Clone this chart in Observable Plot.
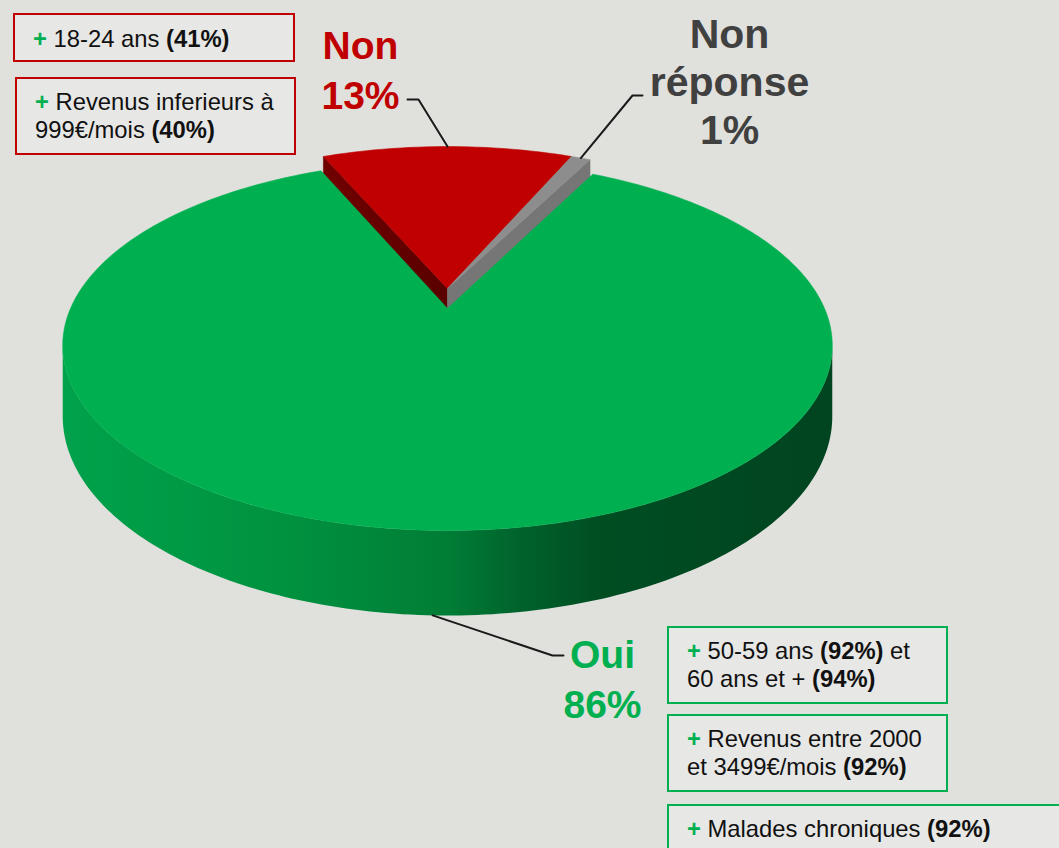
<!DOCTYPE html>
<html>
<head>
<meta charset="utf-8">
<script src="https://cdn.jsdelivr.net/npm/d3@7"></script>
<script src="https://cdn.jsdelivr.net/npm/@observablehq/plot@0.6"></script>
<style>
  body { margin: 0; background: #e0e0dc; }
  #wrap { position: relative; width: 1059px; height: 848px; overflow: hidden; background: #e0e0dc;
          font-family: "Liberation Sans", Arial, sans-serif; }
  #wrap svg { position: absolute; left: 0; top: 0; }
  .box { position: absolute; box-sizing: border-box; border: 2px solid; background: #e7e7e5;
         font-size: 23.8px; line-height: 28px; color: #111; white-space: nowrap; padding-left: 18px; }
  .box .plus { color: #00b050; font-weight: bold; }
  .box b { font-weight: bold; }
</style>
</head>
<body>
<div id="wrap"></div>
<script>
// ---------------- DATA ----------------
const categories = ["Non", "Non réponse", "Oui"];
const values = [13, 1, 86];
const labelNames = ["Non", "Non\nréponse", "Oui"];
const explodedCategories = ["Non", "Non réponse"];

// profiles over-represented among "Non"
const nonProfiles = [
  [["18-24 ans", 41]],
  [["Revenus inferieurs à\n999€/mois", 40]]
];
// profiles over-represented among "Oui"
const ouiProfiles = [
  [["50-59 ans", 92], [" et\n60 ans et +", 94]],
  [["Revenus entre 2000\net 3499€/mois", 92]],
  [["Malades chroniques", 92]]
];

// ---------------- STYLE / LAYOUT ----------------
const topColors  = {"Non": "#c00000", "Non réponse": "#8d8d8d", "Oui": "#00b050"};
const faceColors = {"Non": "#680000", "Non réponse": "#767676"};
const labelColors = {"Non": "#c00000", "Non réponse": "#404040", "Oui": "#00b050"};
const labelFont = {"Non": 39, "Non réponse": 41, "Oui": 39};
const labelLayout = {   // pixel: center x, top of caps, line spacing, leader elbow & end
  "Non":         {cx: 360, top: 23, lh: 50, elbow: [418, 99], end: [407, 99]},
  "Non réponse": {cx: 729, top: 13, lh: 48, elbow: [632, 95], end: [642, 95]},
  "Oui":         {cx: 602, top: 632, lh: 50, elbow: [552, 655], end: [563, 655]}
};
const nonBoxLayout = [
  {left: 13, top: 13, width: 282, height: 49, pad: 10},
  {left: 15, top: 77, width: 281, height: 78, pad: 9}
];
const ouiBoxLayout = [
  {left: 667, top: 626, width: 281, height: 78, pad: 9},
  {left: 667, top: 714, width: 281, height: 78, pad: 9},
  {left: 667, top: 804, width: 420, height: 60, pad: 9}
];

// pie projection parameters (model units -> scales)
const PERSP = 0.2, DEPTH = 0.383, EXPLODE = 0.115;
const xDomain = [-1, 1], xRange = [70, 824];
const yDomain = [-1, 1], yRange = [485.6, 130.4];
const xS = d3.scaleLinear().domain(xDomain).range(xRange);
const yS = d3.scaleLinear().domain(yDomain).range(yRange);

function proj(u, t, z) { const q = 1 / (1 + PERSP * t); return {x: u * q, y: (t + DEPTH * z) * q}; }
function rim(a, z, dt) { return proj(Math.sin(a), Math.cos(a) + dt, z); }
function arcPts(a0, a1, z, dt) {
  const n = Math.max(2, Math.ceil(Math.abs(a1 - a0) / (Math.PI / 180)));
  return d3.range(n + 1).map(i => rim(a0 + (a1 - a0) * i / n, z, dt));
}

const table = categories.map((c, i) => ({category: c, value: values[i]}));
const start = -Math.PI * values[0] / d3.sum(values);
const arcs = d3.pie().sort(null).value(d => d.value).startAngle(start).endAngle(start + 2 * Math.PI)(table);

const marks = [];
marks.push(() => {
  const defs = d3.create("svg:defs");
  const g = defs.append("linearGradient").attr("id", "wallGrad").attr("x1", 0).attr("x2", 1).attr("y1", 0).attr("y2", 0);
  [[0, "#00a24b"], [0.3, "#00913f"], [0.5, "#007d36"], [0.6, "#00612b"], [0.7, "#004d22"], [1, "#004420"]]
    .forEach(([o, c]) => g.append("stop").attr("offset", o).attr("stop-color", c));
  const r = defs.append("linearGradient").attr("id", "redFace").attr("x1", 0).attr("x2", 0).attr("y1", 0).attr("y2", 1);
  [[0, "#720000"], [1, "#500000"]].forEach(([o, c]) => r.append("stop").attr("offset", o).attr("stop-color", c));
  return defs.node();
});
function poly(pts, fill, stroke) {
  const p = pts.concat([pts[0]]);
  return Plot.line(p, {x: "x", y: "y", fill, stroke: stroke || fill, strokeWidth: 0.6, strokeLinejoin: "round"});
}

// exploded group (drawn first: it sits behind the main slice)
const exp = arcs.filter(a => explodedCategories.includes(a.data.category));
const gs = d3.min(exp, a => a.startAngle), ge = d3.max(exp, a => a.endAngle);
const cTop = proj(0, EXPLODE, 0), cBot = proj(0, EXPLODE, -1);
const lastExp = exp.find(a => a.endAngle === ge);
marks.push(poly([cTop, rim(gs, 0, EXPLODE), rim(gs, -1, EXPLODE), cBot], "url(#redFace)", "#600000"));
marks.push(poly([cTop, rim(ge, 0, EXPLODE), rim(ge, -1, EXPLODE), cBot], faceColors[lastExp.data.category]));
for (const a of exp) {
  marks.push(poly([cTop, ...arcPts(a.startAngle, a.endAngle, 0, EXPLODE)], topColors[a.data.category]));
}

// main slice: side wall then top
const main = arcs.filter(a => !explodedCategories.includes(a.data.category));
const aL = Math.acos(-PERSP), aR = 2 * Math.PI - aL;
for (const a of main) {
  const a0 = Math.max(a.startAngle, aL), a1 = Math.min(a.endAngle, aR);
  if (a1 > a0) {
    marks.push(poly([...arcPts(a0, a1, 0, 0), ...arcPts(a1, a0, -1, 0)], "url(#wallGrad)", "none"));
  }
  marks.push(poly([proj(0, 0, 0), ...arcPts(a.startAngle, a.endAngle, 0, 0)], topColors[a.data.category]));
}

// leader lines and labels
for (const a of arcs) {
  const c = a.data.category, L = labelLayout[c];
  const mid = (a.startAngle + a.endAngle) / 2;
  const isExp = explodedCategories.includes(c);
  const anchor = rim(mid, isExp ? 0 : -1, isExp ? EXPLODE : 0);
  const pts = [anchor, {x: xS.invert(L.elbow[0]), y: yS.invert(L.elbow[1])}, {x: xS.invert(L.end[0]), y: yS.invert(L.end[1])}];
  marks.push(Plot.line(pts, {x: "x", y: "y", stroke: "#1a1a1a", strokeWidth: 2}));
  const fs = labelFont[c];
  marks.push(Plot.text([{x: xS.invert(L.cx), y: yS.invert(L.top), t: labelNames[categories.indexOf(c)] + "\n" + a.data.value + "%"}], {
    x: "x", y: "y", text: "t", fill: labelColors[c], fontSize: fs, fontWeight: "bold",
    lineAnchor: "top", lineHeight: L.lh / fs, textAnchor: "middle"
  }));
}

const chart = Plot.plot({
  width: 1059, height: 848, margin: 0,
  x: {domain: xDomain, range: xRange, axis: null},
  y: {domain: yDomain, range: yRange, axis: null},
  style: {background: "transparent", fontFamily: "'Liberation Sans', Arial, sans-serif", overflow: "visible"},
  marks
});
const wrap = document.getElementById("wrap");
wrap.appendChild(chart);

function esc(s) { return s.replace(/&/g, "&amp;").replace(/</g, "&lt;").replace(/\n/g, "<br>"); }
function addBoxes(profiles, layout, color) {
  profiles.forEach((segs, i) => {
    const L = layout[i];
    const div = document.createElement("div");
    div.className = "box";
    Object.assign(div.style, {left: L.left + "px", top: L.top + "px", width: L.width + "px", height: L.height + "px",
      paddingTop: L.pad + "px", borderColor: color});
    div.innerHTML = '<span class="plus">+</span> ' + segs.map(([t, v]) => esc(t) + " <b>(" + v + "%)</b>").join("");
    wrap.appendChild(div);
  });
}
addBoxes(nonProfiles, nonBoxLayout, topColors["Non"]);
addBoxes(ouiProfiles, ouiBoxLayout, topColors["Oui"]);
</script>
</body>
</html>
